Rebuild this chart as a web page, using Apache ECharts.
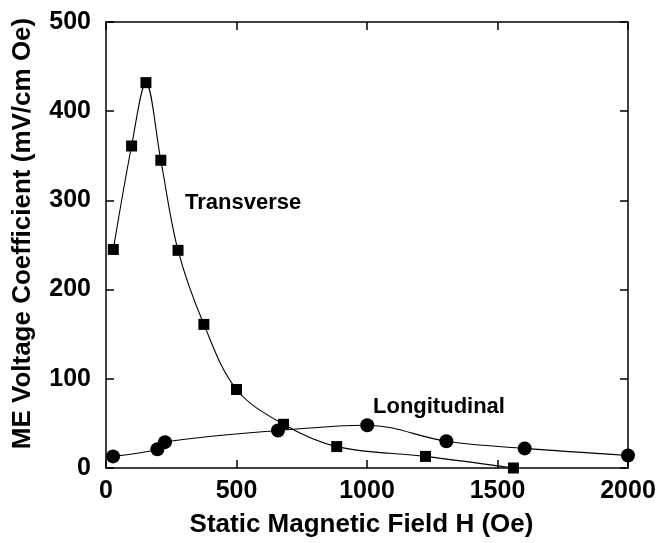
<!DOCTYPE html>
<html>
<head>
<meta charset="utf-8">
<script src="https://cdn.jsdelivr.net/npm/echarts@6/dist/echarts.min.js"></script>
<style>html,body{margin:0;padding:0;background:#fff;}#c{width:666px;height:543px;}</style>
</head>
<body>
<div id="c"></div>
<script>
var transverseH = [28, 98, 153, 210, 276, 375, 500, 680, 884, 1224, 1561];
var transverseV = [245, 361, 432, 345, 244, 161, 88, 49, 24, 13, 0];
var longitudinalH = [27, 197, 226, 659, 1001, 1304, 1604, 2000];
var longitudinalV = [13, 21, 29, 42, 48, 30, 22, 14];
var xTicks = [0, 500, 1000, 1500, 2000];
var yTicks = [0, 100, 200, 300, 400, 500];

function pairs(xs, ys) { return xs.map(function (x, i) { return [x, ys[i]]; }); }

var font = 'Liberation Sans, Arial, sans-serif';
var chart = echarts.init(document.getElementById('c'), null, {renderer: 'canvas'});
var axisCommon = {
  axisLine: {show: true, onZero: false, lineStyle: {color: '#000', width: 1.5}},
  axisTick: {show: true, inside: true, length: 8, lineStyle: {color: '#000', width: 1.5}},
  splitLine: {show: false}
};
function plain(v) { return String(v); }
chart.setOption({
  animation: false,
  backgroundColor: '#fff',
  grid: {left: 106, right: 38, top: 22, bottom: 72},
  xAxis: [
    Object.assign({
      type: 'value', min: xTicks[0], max: xTicks[xTicks.length - 1], interval: 500,
      name: 'Static Magnetic Field H (Oe)', nameLocation: 'middle', nameGap: 44,
      nameTextStyle: {fontFamily: font, fontSize: 26, fontWeight: 'bold', color: '#000', padding: [0, 11, 0, 0]},
      axisLabel: {fontFamily: font, fontSize: 25, fontWeight: 'bold', color: '#000', margin: 11, formatter: plain}
    }, axisCommon),
    Object.assign({
      type: 'value', position: 'top', min: xTicks[0], max: xTicks[xTicks.length - 1], interval: 500,
      axisLabel: {show: false}
    }, axisCommon)
  ],
  yAxis: [
    Object.assign({
      type: 'value', min: yTicks[0], max: yTicks[yTicks.length - 1], interval: 100,
      name: 'ME Voltage Coefficient (mV/cm Oe)', nameLocation: 'middle', nameGap: 70,
      nameTextStyle: {fontFamily: font, fontSize: 26, fontWeight: 'bold', color: '#000', padding: [0, 0, 0, 23]},
      axisLabel: {fontFamily: font, fontSize: 25, fontWeight: 'bold', color: '#000', margin: 15, formatter: plain}
    }, axisCommon),
    Object.assign({
      type: 'value', position: 'right', min: yTicks[0], max: yTicks[yTicks.length - 1], interval: 100,
      axisLabel: {show: false}
    }, axisCommon)
  ],
  series: [
    {
      name: 'Transverse', type: 'line', smooth: 0.35,
      data: pairs(transverseH, transverseV),
      symbol: 'rect', symbolSize: 11,
      itemStyle: {color: '#000'},
      lineStyle: {color: '#000', width: 1.1}
    },
    {
      name: 'Longitudinal', type: 'line', smooth: 0.35,
      data: pairs(longitudinalH, longitudinalV),
      symbol: 'circle', symbolSize: 14,
      itemStyle: {color: '#000'},
      lineStyle: {color: '#000', width: 1.1}
    }
  ],
  graphic: [
    {type: 'text', x: 185, y: 203, style: {text: 'Transverse', font: 'bold 22px ' + font, fill: '#000', verticalAlign: 'middle'}},
    {type: 'text', x: 373, y: 407, style: {text: 'Longitudinal', font: 'bold 22px ' + font, fill: '#000', verticalAlign: 'middle'}}
  ]
});
</script>
</body>
</html>
